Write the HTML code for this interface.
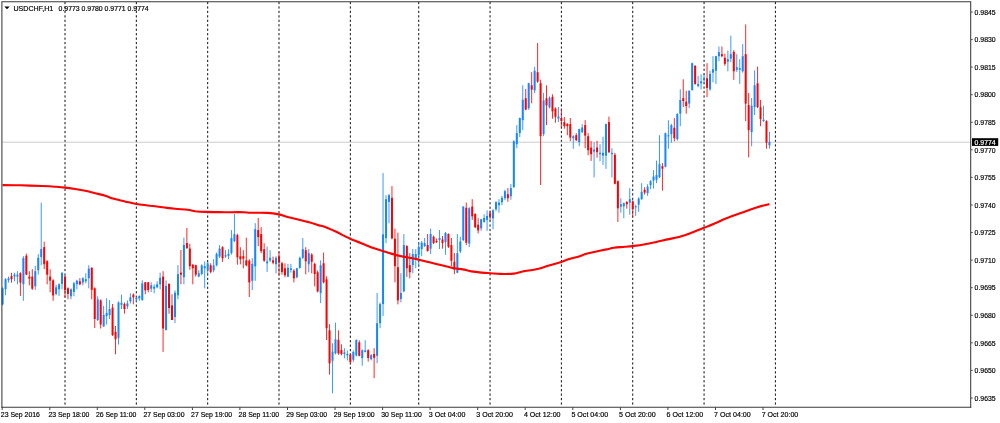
<!DOCTYPE html><html><head><meta charset="utf-8"><title>USDCHF,H1</title><style>html,body{margin:0;padding:0;background:#fff}body{width:1000px;height:423px;overflow:hidden}svg{display:block}text{font-family:"Liberation Sans",sans-serif;font-size:7.3px;fill:#000;stroke:#000;stroke-width:0.18px}</style></head><body>
<svg width="1000" height="423" viewBox="0 0 1000 423">
<rect width="1000" height="423" fill="#fff"/>
<line x1="65.0" y1="1.9" x2="65.0" y2="406.8" stroke="#000" stroke-width="0.95" stroke-dasharray="2.25 2.2"/>
<line x1="136.34" y1="1.9" x2="136.34" y2="406.8" stroke="#000" stroke-width="0.95" stroke-dasharray="2.25 2.2"/>
<line x1="207.68" y1="1.9" x2="207.68" y2="406.8" stroke="#000" stroke-width="0.95" stroke-dasharray="2.25 2.2"/>
<line x1="279.01" y1="1.9" x2="279.01" y2="406.8" stroke="#000" stroke-width="0.95" stroke-dasharray="2.25 2.2"/>
<line x1="350.35" y1="1.9" x2="350.35" y2="406.8" stroke="#000" stroke-width="0.95" stroke-dasharray="2.25 2.2"/>
<line x1="418.72" y1="1.9" x2="418.72" y2="406.8" stroke="#000" stroke-width="0.95" stroke-dasharray="2.25 2.2"/>
<line x1="490.05" y1="1.9" x2="490.05" y2="406.8" stroke="#000" stroke-width="0.95" stroke-dasharray="2.25 2.2"/>
<line x1="561.39" y1="1.9" x2="561.39" y2="406.8" stroke="#000" stroke-width="0.95" stroke-dasharray="2.25 2.2"/>
<line x1="632.73" y1="1.9" x2="632.73" y2="406.8" stroke="#000" stroke-width="0.95" stroke-dasharray="2.25 2.2"/>
<line x1="704.07" y1="1.9" x2="704.07" y2="406.8" stroke="#000" stroke-width="0.95" stroke-dasharray="2.25 2.2"/>
<line x1="775.4" y1="1.9" x2="775.4" y2="406.8" stroke="#000" stroke-width="0.95" stroke-dasharray="2.25 2.2"/>
<line x1="2" y1="142.2" x2="971" y2="142.2" stroke="#c0c0c0" stroke-width="0.8"/>
<line x1="2.58" y1="287.3" x2="2.58" y2="305.4" stroke="#1688ff" stroke-width="0.85"/>
<rect x="1.58" y="288.3" width="2" height="16.1" fill="#1688ff"/>
<line x1="5.55" y1="278.2" x2="5.55" y2="295.3" stroke="#1688ff" stroke-width="0.85"/>
<rect x="4.55" y="279.2" width="2" height="10.1" fill="#1688ff"/>
<line x1="8.52" y1="276.6" x2="8.52" y2="282.7" stroke="#1688ff" stroke-width="0.85"/>
<rect x="7.52" y="278.2" width="2" height="2.0" fill="#1688ff"/>
<line x1="11.50" y1="272.8" x2="11.50" y2="282.7" stroke="#ff0000" stroke-width="0.85"/>
<rect x="10.50" y="276.2" width="2" height="3.0" fill="#ff0000"/>
<line x1="14.47" y1="272.8" x2="14.47" y2="281.3" stroke="#1688ff" stroke-width="0.85"/>
<rect x="13.47" y="274.6" width="2" height="2.0" fill="#1688ff"/>
<line x1="17.44" y1="271.2" x2="17.44" y2="284.3" stroke="#1688ff" stroke-width="0.85"/>
<rect x="16.44" y="274.6" width="2" height="2.0" fill="#1688ff"/>
<line x1="20.41" y1="272.2" x2="20.41" y2="295.9" stroke="#ff0000" stroke-width="0.85"/>
<rect x="19.41" y="273.2" width="2" height="9.4" fill="#ff0000"/>
<line x1="23.39" y1="256.1" x2="23.39" y2="300.8" stroke="#1688ff" stroke-width="0.85"/>
<rect x="22.39" y="258.1" width="2" height="26.1" fill="#1688ff"/>
<line x1="26.36" y1="253.7" x2="26.36" y2="275.2" stroke="#ff0000" stroke-width="0.85"/>
<rect x="25.36" y="255.7" width="2" height="18.9" fill="#ff0000"/>
<line x1="29.33" y1="271.2" x2="29.33" y2="285.3" stroke="#ff0000" stroke-width="0.85"/>
<rect x="28.33" y="276.6" width="2" height="2.0" fill="#ff0000"/>
<line x1="32.30" y1="269.2" x2="32.30" y2="289.9" stroke="#ff0000" stroke-width="0.85"/>
<rect x="31.30" y="276.6" width="2" height="12.1" fill="#ff0000"/>
<line x1="35.28" y1="265.8" x2="35.28" y2="289.9" stroke="#1688ff" stroke-width="0.85"/>
<rect x="34.28" y="271.2" width="2" height="15.1" fill="#1688ff"/>
<line x1="38.25" y1="254.1" x2="38.25" y2="274.6" stroke="#1688ff" stroke-width="0.85"/>
<rect x="37.25" y="257.7" width="2" height="12.5" fill="#1688ff"/>
<line x1="41.22" y1="202.7" x2="41.22" y2="265.2" stroke="#1688ff" stroke-width="0.85"/>
<rect x="40.22" y="249.1" width="2" height="8.0" fill="#1688ff"/>
<line x1="44.19" y1="241.7" x2="44.19" y2="269.2" stroke="#ff0000" stroke-width="0.85"/>
<rect x="43.19" y="247.1" width="2" height="17.1" fill="#ff0000"/>
<line x1="47.17" y1="260.2" x2="47.17" y2="284.3" stroke="#ff0000" stroke-width="0.85"/>
<rect x="46.17" y="261.2" width="2" height="13.5" fill="#ff0000"/>
<line x1="50.14" y1="269.2" x2="50.14" y2="292.3" stroke="#ff0000" stroke-width="0.85"/>
<rect x="49.14" y="276.6" width="2" height="4.0" fill="#ff0000"/>
<line x1="53.11" y1="279.2" x2="53.11" y2="300.8" stroke="#ff0000" stroke-width="0.85"/>
<rect x="52.11" y="280.3" width="2" height="15.1" fill="#ff0000"/>
<line x1="56.08" y1="284.7" x2="56.08" y2="295.3" stroke="#1688ff" stroke-width="0.85"/>
<rect x="55.08" y="287.3" width="2" height="6.6" fill="#1688ff"/>
<line x1="59.06" y1="283.3" x2="59.06" y2="295.9" stroke="#1688ff" stroke-width="0.85"/>
<rect x="58.06" y="284.3" width="2" height="5.0" fill="#1688ff"/>
<line x1="62.03" y1="272.2" x2="62.03" y2="289.3" stroke="#1688ff" stroke-width="0.85"/>
<rect x="61.03" y="272.8" width="2" height="11.1" fill="#1688ff"/>
<line x1="65.00" y1="275.2" x2="65.00" y2="297.3" stroke="#ff0000" stroke-width="0.85"/>
<rect x="64.00" y="276.6" width="2" height="13.7" fill="#ff0000"/>
<line x1="67.97" y1="287.3" x2="67.97" y2="299.3" stroke="#ff0000" stroke-width="0.85"/>
<rect x="66.97" y="288.3" width="2" height="5.6" fill="#ff0000"/>
<line x1="70.95" y1="288.3" x2="70.95" y2="299.3" stroke="#1688ff" stroke-width="0.85"/>
<rect x="69.95" y="289.3" width="2" height="7.0" fill="#1688ff"/>
<line x1="73.92" y1="281.9" x2="73.92" y2="296.3" stroke="#1688ff" stroke-width="0.85"/>
<rect x="72.92" y="283.3" width="2" height="8.6" fill="#1688ff"/>
<line x1="76.89" y1="279.8" x2="76.89" y2="289.3" stroke="#1688ff" stroke-width="0.85"/>
<rect x="75.89" y="280.7" width="2" height="3.6" fill="#1688ff"/>
<line x1="79.86" y1="278.2" x2="79.86" y2="285.3" stroke="#ff0000" stroke-width="0.85"/>
<rect x="78.86" y="281.3" width="2" height="3.0" fill="#ff0000"/>
<line x1="82.83" y1="277.2" x2="82.83" y2="285.3" stroke="#1688ff" stroke-width="0.85"/>
<rect x="81.83" y="278.2" width="2" height="4.4" fill="#1688ff"/>
<line x1="85.81" y1="273.2" x2="85.81" y2="283.3" stroke="#1688ff" stroke-width="0.85"/>
<rect x="84.81" y="279.2" width="2" height="2.0" fill="#1688ff"/>
<line x1="88.78" y1="265.2" x2="88.78" y2="288.3" stroke="#1688ff" stroke-width="0.85"/>
<rect x="87.78" y="268.6" width="2" height="9.6" fill="#1688ff"/>
<line x1="91.75" y1="267.2" x2="91.75" y2="299.3" stroke="#ff0000" stroke-width="0.85"/>
<rect x="90.75" y="267.8" width="2" height="22.1" fill="#ff0000"/>
<line x1="94.72" y1="287.3" x2="94.72" y2="328.0" stroke="#ff0000" stroke-width="0.85"/>
<rect x="93.72" y="288.3" width="2" height="30.7" fill="#ff0000"/>
<line x1="97.70" y1="296.3" x2="97.70" y2="321.0" stroke="#1688ff" stroke-width="0.85"/>
<rect x="96.70" y="299.3" width="2" height="20.7" fill="#1688ff"/>
<line x1="100.67" y1="299.3" x2="100.67" y2="328.5" stroke="#ff0000" stroke-width="0.85"/>
<rect x="99.67" y="300.4" width="2" height="24.1" fill="#ff0000"/>
<line x1="103.64" y1="305.8" x2="103.64" y2="326.5" stroke="#1688ff" stroke-width="0.85"/>
<rect x="102.64" y="315.0" width="2" height="11.5" fill="#1688ff"/>
<line x1="106.61" y1="298.3" x2="106.61" y2="324.5" stroke="#1688ff" stroke-width="0.85"/>
<rect x="105.61" y="313.0" width="2" height="3.0" fill="#1688ff"/>
<line x1="109.59" y1="300.0" x2="109.59" y2="319.0" stroke="#1688ff" stroke-width="0.85"/>
<rect x="108.59" y="309.0" width="2" height="6.0" fill="#1688ff"/>
<line x1="112.56" y1="304.0" x2="112.56" y2="336.0" stroke="#ff0000" stroke-width="0.85"/>
<rect x="111.56" y="307.6" width="2" height="27.4" fill="#ff0000"/>
<line x1="115.53" y1="326.0" x2="115.53" y2="354.3" stroke="#ff0000" stroke-width="0.85"/>
<rect x="114.53" y="331.8" width="2" height="7.4" fill="#ff0000"/>
<line x1="118.50" y1="301.4" x2="118.50" y2="344.6" stroke="#1688ff" stroke-width="0.85"/>
<rect x="117.50" y="302.4" width="2" height="35.4" fill="#1688ff"/>
<line x1="121.48" y1="294.7" x2="121.48" y2="309.0" stroke="#1688ff" stroke-width="0.85"/>
<rect x="120.48" y="302.8" width="2" height="2.0" fill="#1688ff"/>
<line x1="124.45" y1="302.4" x2="124.45" y2="313.7" stroke="#ff0000" stroke-width="0.85"/>
<rect x="123.45" y="304.0" width="2" height="5.0" fill="#ff0000"/>
<line x1="127.42" y1="300.4" x2="127.42" y2="309.0" stroke="#1688ff" stroke-width="0.85"/>
<rect x="126.42" y="303.4" width="2" height="3.0" fill="#1688ff"/>
<line x1="130.39" y1="293.3" x2="130.39" y2="303.5" stroke="#1688ff" stroke-width="0.85"/>
<rect x="129.39" y="297.3" width="2" height="4.1" fill="#1688ff"/>
<line x1="133.37" y1="293.3" x2="133.37" y2="304.4" stroke="#ff0000" stroke-width="0.85"/>
<rect x="132.37" y="294.7" width="2" height="2.6" fill="#ff0000"/>
<line x1="136.34" y1="296.3" x2="136.34" y2="302.4" stroke="#1688ff" stroke-width="0.85"/>
<rect x="135.34" y="298.0" width="2" height="1.3" fill="#1688ff"/>
<line x1="139.31" y1="295.3" x2="139.31" y2="300.8" stroke="#1688ff" stroke-width="0.85"/>
<rect x="138.31" y="296.0" width="2" height="2.3" fill="#1688ff"/>
<line x1="142.28" y1="280.3" x2="142.28" y2="300.8" stroke="#1688ff" stroke-width="0.85"/>
<rect x="141.28" y="283.3" width="2" height="16.7" fill="#1688ff"/>
<line x1="145.26" y1="281.9" x2="145.26" y2="294.3" stroke="#ff0000" stroke-width="0.85"/>
<rect x="144.26" y="282.3" width="2" height="8.0" fill="#ff0000"/>
<line x1="148.23" y1="281.9" x2="148.23" y2="292.3" stroke="#ff0000" stroke-width="0.85"/>
<rect x="147.23" y="282.3" width="2" height="7.7" fill="#ff0000"/>
<line x1="151.20" y1="282.3" x2="151.20" y2="292.0" stroke="#1688ff" stroke-width="0.85"/>
<rect x="150.20" y="285.3" width="2" height="3.4" fill="#1688ff"/>
<line x1="154.17" y1="284.3" x2="154.17" y2="293.3" stroke="#1688ff" stroke-width="0.85"/>
<rect x="153.17" y="286.7" width="2" height="2.0" fill="#1688ff"/>
<line x1="157.14" y1="281.3" x2="157.14" y2="288.3" stroke="#1688ff" stroke-width="0.85"/>
<rect x="156.14" y="284.3" width="2" height="3.0" fill="#1688ff"/>
<line x1="160.12" y1="272.6" x2="160.12" y2="289.3" stroke="#1688ff" stroke-width="0.85"/>
<rect x="159.12" y="277.8" width="2" height="6.5" fill="#1688ff"/>
<line x1="163.09" y1="271.2" x2="163.09" y2="351.9" stroke="#ff0000" stroke-width="0.85"/>
<rect x="162.09" y="276.6" width="2" height="51.9" fill="#ff0000"/>
<line x1="166.06" y1="280.3" x2="166.06" y2="330.2" stroke="#1688ff" stroke-width="0.85"/>
<rect x="165.06" y="285.9" width="2" height="44.3" fill="#1688ff"/>
<line x1="169.03" y1="283.3" x2="169.03" y2="313.7" stroke="#ff0000" stroke-width="0.85"/>
<rect x="168.03" y="283.9" width="2" height="24.1" fill="#ff0000"/>
<line x1="172.01" y1="294.3" x2="172.01" y2="320.0" stroke="#ff0000" stroke-width="0.85"/>
<rect x="171.01" y="305.4" width="2" height="14.6" fill="#ff0000"/>
<line x1="174.98" y1="290.3" x2="174.98" y2="323.0" stroke="#1688ff" stroke-width="0.85"/>
<rect x="173.98" y="292.7" width="2" height="24.3" fill="#1688ff"/>
<line x1="177.95" y1="265.2" x2="177.95" y2="299.3" stroke="#1688ff" stroke-width="0.85"/>
<rect x="176.95" y="274.2" width="2" height="21.1" fill="#1688ff"/>
<line x1="180.92" y1="250.0" x2="180.92" y2="284.3" stroke="#ff0000" stroke-width="0.85"/>
<rect x="179.92" y="272.6" width="2" height="2.0" fill="#ff0000"/>
<line x1="183.90" y1="237.6" x2="183.90" y2="284.3" stroke="#1688ff" stroke-width="0.85"/>
<rect x="182.90" y="245.0" width="2" height="32.2" fill="#1688ff"/>
<line x1="186.87" y1="228.0" x2="186.87" y2="249.0" stroke="#ff0000" stroke-width="0.85"/>
<rect x="185.87" y="243.0" width="2" height="5.0" fill="#ff0000"/>
<line x1="189.84" y1="243.7" x2="189.84" y2="269.8" stroke="#ff0000" stroke-width="0.85"/>
<rect x="188.84" y="248.5" width="2" height="17.7" fill="#ff0000"/>
<line x1="192.81" y1="264.2" x2="192.81" y2="284.3" stroke="#ff0000" stroke-width="0.85"/>
<rect x="191.81" y="264.6" width="2" height="3.6" fill="#ff0000"/>
<line x1="195.79" y1="264.6" x2="195.79" y2="276.6" stroke="#ff0000" stroke-width="0.85"/>
<rect x="194.79" y="265.2" width="2" height="9.4" fill="#ff0000"/>
<line x1="198.76" y1="270.3" x2="198.76" y2="277.3" stroke="#1688ff" stroke-width="0.85"/>
<rect x="197.76" y="273.3" width="2" height="3.2" fill="#1688ff"/>
<line x1="201.73" y1="264.3" x2="201.73" y2="275.3" stroke="#1688ff" stroke-width="0.85"/>
<rect x="200.73" y="265.3" width="2" height="8.6" fill="#1688ff"/>
<line x1="204.70" y1="261.3" x2="204.70" y2="288.4" stroke="#1688ff" stroke-width="0.85"/>
<rect x="203.70" y="266.3" width="2" height="2.0" fill="#1688ff"/>
<line x1="207.68" y1="261.9" x2="207.68" y2="274.3" stroke="#1688ff" stroke-width="0.85"/>
<rect x="206.68" y="263.3" width="2" height="7.0" fill="#1688ff"/>
<line x1="210.65" y1="263.3" x2="210.65" y2="273.3" stroke="#ff0000" stroke-width="0.85"/>
<rect x="209.65" y="265.3" width="2" height="6.6" fill="#ff0000"/>
<line x1="213.62" y1="259.2" x2="213.62" y2="272.3" stroke="#1688ff" stroke-width="0.85"/>
<rect x="212.62" y="265.3" width="2" height="5.0" fill="#1688ff"/>
<line x1="216.59" y1="252.6" x2="216.59" y2="266.3" stroke="#1688ff" stroke-width="0.85"/>
<rect x="215.59" y="253.8" width="2" height="11.5" fill="#1688ff"/>
<line x1="219.57" y1="245.2" x2="219.57" y2="258.2" stroke="#1688ff" stroke-width="0.85"/>
<rect x="218.57" y="248.6" width="2" height="8.0" fill="#1688ff"/>
<line x1="222.54" y1="246.2" x2="222.54" y2="261.9" stroke="#ff0000" stroke-width="0.85"/>
<rect x="221.54" y="247.2" width="2" height="11.1" fill="#ff0000"/>
<line x1="225.51" y1="250.2" x2="225.51" y2="257.8" stroke="#1688ff" stroke-width="0.85"/>
<rect x="224.51" y="255.2" width="2" height="1.4" fill="#1688ff"/>
<line x1="228.48" y1="249.2" x2="228.48" y2="259.2" stroke="#1688ff" stroke-width="0.85"/>
<rect x="227.48" y="253.8" width="2" height="2.0" fill="#1688ff"/>
<line x1="231.45" y1="230.1" x2="231.45" y2="254.6" stroke="#1688ff" stroke-width="0.85"/>
<rect x="230.45" y="238.1" width="2" height="15.1" fill="#1688ff"/>
<line x1="234.43" y1="214.0" x2="234.43" y2="242.2" stroke="#1688ff" stroke-width="0.85"/>
<rect x="233.43" y="234.1" width="2" height="7.0" fill="#1688ff"/>
<line x1="237.40" y1="233.7" x2="237.40" y2="264.7" stroke="#ff0000" stroke-width="0.85"/>
<rect x="236.40" y="235.1" width="2" height="22.1" fill="#ff0000"/>
<line x1="240.37" y1="247.2" x2="240.37" y2="264.3" stroke="#ff0000" stroke-width="0.85"/>
<rect x="239.37" y="256.2" width="2" height="3.0" fill="#ff0000"/>
<line x1="243.34" y1="250.2" x2="243.34" y2="268.3" stroke="#ff0000" stroke-width="0.85"/>
<rect x="242.34" y="256.2" width="2" height="2.4" fill="#ff0000"/>
<line x1="246.32" y1="237.7" x2="246.32" y2="266.3" stroke="#ff0000" stroke-width="0.85"/>
<rect x="245.32" y="260.3" width="2" height="5.0" fill="#ff0000"/>
<line x1="249.29" y1="259.2" x2="249.29" y2="297.0" stroke="#ff0000" stroke-width="0.85"/>
<rect x="248.29" y="260.7" width="2" height="21.7" fill="#ff0000"/>
<line x1="252.26" y1="258.2" x2="252.26" y2="290.0" stroke="#1688ff" stroke-width="0.85"/>
<rect x="251.26" y="263.9" width="2" height="16.9" fill="#1688ff"/>
<line x1="255.23" y1="223.1" x2="255.23" y2="280.8" stroke="#1688ff" stroke-width="0.85"/>
<rect x="254.23" y="229.1" width="2" height="37.2" fill="#1688ff"/>
<line x1="258.21" y1="218.0" x2="258.21" y2="246.2" stroke="#ff0000" stroke-width="0.85"/>
<rect x="257.21" y="230.1" width="2" height="7.0" fill="#ff0000"/>
<line x1="261.18" y1="227.1" x2="261.18" y2="253.2" stroke="#ff0000" stroke-width="0.85"/>
<rect x="260.18" y="234.1" width="2" height="17.1" fill="#ff0000"/>
<line x1="264.15" y1="243.2" x2="264.15" y2="261.9" stroke="#ff0000" stroke-width="0.85"/>
<rect x="263.15" y="249.2" width="2" height="11.5" fill="#ff0000"/>
<line x1="267.12" y1="246.6" x2="267.12" y2="271.9" stroke="#1688ff" stroke-width="0.85"/>
<rect x="266.12" y="261.3" width="2" height="2.0" fill="#1688ff"/>
<line x1="270.10" y1="250.2" x2="270.10" y2="261.9" stroke="#1688ff" stroke-width="0.85"/>
<rect x="269.10" y="257.8" width="2" height="2.8" fill="#1688ff"/>
<line x1="273.07" y1="256.6" x2="273.07" y2="264.3" stroke="#ff0000" stroke-width="0.85"/>
<rect x="272.07" y="260.3" width="2" height="2.4" fill="#ff0000"/>
<line x1="276.04" y1="256.2" x2="276.04" y2="273.3" stroke="#1688ff" stroke-width="0.85"/>
<rect x="275.04" y="257.8" width="2" height="6.4" fill="#1688ff"/>
<line x1="279.01" y1="252.2" x2="279.01" y2="275.3" stroke="#ff0000" stroke-width="0.85"/>
<rect x="278.01" y="256.6" width="2" height="6.0" fill="#ff0000"/>
<line x1="281.99" y1="261.9" x2="281.99" y2="274.7" stroke="#ff0000" stroke-width="0.85"/>
<rect x="280.99" y="263.3" width="2" height="8.6" fill="#ff0000"/>
<line x1="284.96" y1="263.3" x2="284.96" y2="277.3" stroke="#ff0000" stroke-width="0.85"/>
<rect x="283.96" y="268.3" width="2" height="7.0" fill="#ff0000"/>
<line x1="287.93" y1="263.9" x2="287.93" y2="277.3" stroke="#1688ff" stroke-width="0.85"/>
<rect x="286.93" y="267.9" width="2" height="8.8" fill="#1688ff"/>
<line x1="290.90" y1="263.9" x2="290.90" y2="272.7" stroke="#1688ff" stroke-width="0.85"/>
<rect x="289.90" y="268.3" width="2" height="1.6" fill="#1688ff"/>
<line x1="293.88" y1="269.3" x2="293.88" y2="282.4" stroke="#ff0000" stroke-width="0.85"/>
<rect x="292.88" y="270.7" width="2" height="7.6" fill="#ff0000"/>
<line x1="296.85" y1="267.9" x2="296.85" y2="278.3" stroke="#1688ff" stroke-width="0.85"/>
<rect x="295.85" y="268.3" width="2" height="9.0" fill="#1688ff"/>
<line x1="299.82" y1="256.6" x2="299.82" y2="268.7" stroke="#1688ff" stroke-width="0.85"/>
<rect x="298.82" y="257.8" width="2" height="10.1" fill="#1688ff"/>
<line x1="302.79" y1="238.1" x2="302.79" y2="259.2" stroke="#1688ff" stroke-width="0.85"/>
<rect x="301.79" y="249.2" width="2" height="8.6" fill="#1688ff"/>
<line x1="305.76" y1="247.2" x2="305.76" y2="274.3" stroke="#ff0000" stroke-width="0.85"/>
<rect x="304.76" y="250.2" width="2" height="11.1" fill="#ff0000"/>
<line x1="308.74" y1="249.2" x2="308.74" y2="272.3" stroke="#1688ff" stroke-width="0.85"/>
<rect x="307.74" y="253.2" width="2" height="11.1" fill="#1688ff"/>
<line x1="311.71" y1="253.2" x2="311.71" y2="273.3" stroke="#ff0000" stroke-width="0.85"/>
<rect x="310.71" y="254.6" width="2" height="7.2" fill="#ff0000"/>
<line x1="314.68" y1="262.7" x2="314.68" y2="286.4" stroke="#ff0000" stroke-width="0.85"/>
<rect x="313.68" y="263.9" width="2" height="10.1" fill="#ff0000"/>
<line x1="317.65" y1="270.3" x2="317.65" y2="292.4" stroke="#ff0000" stroke-width="0.85"/>
<rect x="316.65" y="272.3" width="2" height="19.1" fill="#ff0000"/>
<line x1="320.63" y1="260.3" x2="320.63" y2="303.1" stroke="#1688ff" stroke-width="0.85"/>
<rect x="319.63" y="265.3" width="2" height="27.7" fill="#1688ff"/>
<line x1="323.60" y1="252.6" x2="323.60" y2="283.4" stroke="#ff0000" stroke-width="0.85"/>
<rect x="322.60" y="263.3" width="2" height="19.1" fill="#ff0000"/>
<line x1="326.57" y1="276.3" x2="326.57" y2="340.0" stroke="#ff0000" stroke-width="0.85"/>
<rect x="325.57" y="279.3" width="2" height="48.9" fill="#ff0000"/>
<line x1="329.54" y1="324.2" x2="329.54" y2="374.6" stroke="#ff0000" stroke-width="0.85"/>
<rect x="328.54" y="330.3" width="2" height="33.0" fill="#ff0000"/>
<line x1="332.52" y1="343.3" x2="332.52" y2="393.3" stroke="#1688ff" stroke-width="0.85"/>
<rect x="331.52" y="351.6" width="2" height="9.2" fill="#1688ff"/>
<line x1="335.49" y1="322.6" x2="335.49" y2="354.4" stroke="#1688ff" stroke-width="0.85"/>
<rect x="334.49" y="339.3" width="2" height="14.1" fill="#1688ff"/>
<line x1="338.46" y1="330.3" x2="338.46" y2="354.8" stroke="#ff0000" stroke-width="0.85"/>
<rect x="337.46" y="339.9" width="2" height="13.5" fill="#ff0000"/>
<line x1="341.43" y1="344.3" x2="341.43" y2="355.4" stroke="#ff0000" stroke-width="0.85"/>
<rect x="340.43" y="350.0" width="2" height="4.0" fill="#ff0000"/>
<line x1="344.41" y1="348.3" x2="344.41" y2="358.4" stroke="#1688ff" stroke-width="0.85"/>
<rect x="343.41" y="352.4" width="2" height="1.6" fill="#1688ff"/>
<line x1="347.38" y1="350.4" x2="347.38" y2="360.4" stroke="#1688ff" stroke-width="0.85"/>
<rect x="346.38" y="354.0" width="2" height="1.4" fill="#1688ff"/>
<line x1="350.35" y1="353.4" x2="350.35" y2="363.8" stroke="#ff0000" stroke-width="0.85"/>
<rect x="349.35" y="354.6" width="2" height="7.3" fill="#ff0000"/>
<line x1="353.32" y1="350.4" x2="353.32" y2="361.9" stroke="#1688ff" stroke-width="0.85"/>
<rect x="352.32" y="352.0" width="2" height="7.8" fill="#1688ff"/>
<line x1="356.30" y1="339.3" x2="356.30" y2="356.4" stroke="#1688ff" stroke-width="0.85"/>
<rect x="355.30" y="340.0" width="2" height="15.5" fill="#1688ff"/>
<line x1="359.27" y1="340.3" x2="359.27" y2="356.4" stroke="#ff0000" stroke-width="0.85"/>
<rect x="358.27" y="342.4" width="2" height="13.4" fill="#ff0000"/>
<line x1="362.24" y1="349.3" x2="362.24" y2="365.8" stroke="#1688ff" stroke-width="0.85"/>
<rect x="361.24" y="350.2" width="2" height="8.0" fill="#1688ff"/>
<line x1="365.21" y1="340.2" x2="365.21" y2="352.4" stroke="#1688ff" stroke-width="0.85"/>
<rect x="364.21" y="350.4" width="2" height="1.6" fill="#1688ff"/>
<line x1="368.19" y1="349.3" x2="368.19" y2="361.6" stroke="#ff0000" stroke-width="0.85"/>
<rect x="367.19" y="350.2" width="2" height="7.8" fill="#ff0000"/>
<line x1="371.16" y1="354.0" x2="371.16" y2="360.4" stroke="#1688ff" stroke-width="0.85"/>
<rect x="370.16" y="355.2" width="2" height="4.0" fill="#1688ff"/>
<line x1="374.13" y1="348.2" x2="374.13" y2="378.2" stroke="#ff0000" stroke-width="0.85"/>
<rect x="373.13" y="354.0" width="2" height="3.8" fill="#ff0000"/>
<line x1="377.10" y1="293.0" x2="377.10" y2="363.3" stroke="#1688ff" stroke-width="0.85"/>
<rect x="376.10" y="323.2" width="2" height="32.6" fill="#1688ff"/>
<line x1="380.07" y1="302.5" x2="380.07" y2="328.2" stroke="#1688ff" stroke-width="0.85"/>
<rect x="379.07" y="304.1" width="2" height="19.1" fill="#1688ff"/>
<line x1="383.05" y1="173.1" x2="383.05" y2="316.2" stroke="#1688ff" stroke-width="0.85"/>
<rect x="382.05" y="234.3" width="2" height="69.8" fill="#1688ff"/>
<line x1="386.02" y1="195.2" x2="386.02" y2="243.2" stroke="#1688ff" stroke-width="0.85"/>
<rect x="385.02" y="199.2" width="2" height="38.9" fill="#1688ff"/>
<line x1="388.99" y1="193.8" x2="388.99" y2="223.3" stroke="#1688ff" stroke-width="0.85"/>
<rect x="387.99" y="195.2" width="2" height="6.6" fill="#1688ff"/>
<line x1="391.96" y1="186.1" x2="391.96" y2="239.4" stroke="#ff0000" stroke-width="0.85"/>
<rect x="390.96" y="197.8" width="2" height="40.6" fill="#ff0000"/>
<line x1="394.94" y1="228.7" x2="394.94" y2="282.3" stroke="#ff0000" stroke-width="0.85"/>
<rect x="393.94" y="238.7" width="2" height="27.5" fill="#ff0000"/>
<line x1="397.91" y1="232.6" x2="397.91" y2="304.4" stroke="#ff0000" stroke-width="0.85"/>
<rect x="396.91" y="267.2" width="2" height="33.2" fill="#ff0000"/>
<line x1="400.88" y1="273.2" x2="400.88" y2="302.4" stroke="#1688ff" stroke-width="0.85"/>
<rect x="399.88" y="293.0" width="2" height="6.0" fill="#1688ff"/>
<line x1="403.85" y1="234.0" x2="403.85" y2="292.3" stroke="#1688ff" stroke-width="0.85"/>
<rect x="402.85" y="245.1" width="2" height="46.2" fill="#1688ff"/>
<line x1="406.83" y1="245.1" x2="406.83" y2="276.9" stroke="#ff0000" stroke-width="0.85"/>
<rect x="405.83" y="246.1" width="2" height="22.1" fill="#ff0000"/>
<line x1="409.80" y1="253.1" x2="409.80" y2="278.3" stroke="#ff0000" stroke-width="0.85"/>
<rect x="408.80" y="265.2" width="2" height="7.0" fill="#ff0000"/>
<line x1="412.77" y1="249.1" x2="412.77" y2="273.2" stroke="#1688ff" stroke-width="0.85"/>
<rect x="411.77" y="254.1" width="2" height="11.1" fill="#1688ff"/>
<line x1="415.74" y1="249.1" x2="415.74" y2="268.2" stroke="#1688ff" stroke-width="0.85"/>
<rect x="414.74" y="254.1" width="2" height="4.1" fill="#1688ff"/>
<line x1="418.72" y1="242.0" x2="418.72" y2="266.2" stroke="#1688ff" stroke-width="0.85"/>
<rect x="417.72" y="247.1" width="2" height="8.1" fill="#1688ff"/>
<line x1="421.69" y1="241.0" x2="421.69" y2="256.2" stroke="#1688ff" stroke-width="0.85"/>
<rect x="420.69" y="242.7" width="2" height="6.4" fill="#1688ff"/>
<line x1="424.66" y1="238.0" x2="424.66" y2="247.1" stroke="#1688ff" stroke-width="0.85"/>
<rect x="423.66" y="243.1" width="2" height="3.0" fill="#1688ff"/>
<line x1="427.63" y1="234.0" x2="427.63" y2="251.5" stroke="#ff0000" stroke-width="0.85"/>
<rect x="426.63" y="245.1" width="2" height="6.0" fill="#ff0000"/>
<line x1="430.61" y1="228.6" x2="430.61" y2="254.1" stroke="#1688ff" stroke-width="0.85"/>
<rect x="429.61" y="234.0" width="2" height="14.7" fill="#1688ff"/>
<line x1="433.58" y1="235.5" x2="433.58" y2="244.1" stroke="#ff0000" stroke-width="0.85"/>
<rect x="432.58" y="236.7" width="2" height="6.4" fill="#ff0000"/>
<line x1="436.55" y1="238.5" x2="436.55" y2="243.0" stroke="#ff0000" stroke-width="0.85"/>
<rect x="435.55" y="241.0" width="2" height="1.0" fill="#ff0000"/>
<line x1="439.52" y1="230.0" x2="439.52" y2="249.0" stroke="#1688ff" stroke-width="0.85"/>
<rect x="438.52" y="238.0" width="2" height="2.0" fill="#1688ff"/>
<line x1="442.50" y1="236.0" x2="442.50" y2="248.7" stroke="#ff0000" stroke-width="0.85"/>
<rect x="441.50" y="239.5" width="2" height="3.6" fill="#ff0000"/>
<line x1="445.47" y1="232.0" x2="445.47" y2="254.7" stroke="#1688ff" stroke-width="0.85"/>
<rect x="444.47" y="233.0" width="2" height="9.0" fill="#1688ff"/>
<line x1="448.44" y1="233.4" x2="448.44" y2="248.0" stroke="#ff0000" stroke-width="0.85"/>
<rect x="447.44" y="234.0" width="2" height="12.7" fill="#ff0000"/>
<line x1="451.41" y1="238.0" x2="451.41" y2="266.2" stroke="#ff0000" stroke-width="0.85"/>
<rect x="450.41" y="245.1" width="2" height="15.7" fill="#ff0000"/>
<line x1="454.38" y1="253.1" x2="454.38" y2="274.2" stroke="#ff0000" stroke-width="0.85"/>
<rect x="453.38" y="261.6" width="2" height="8.0" fill="#ff0000"/>
<line x1="457.36" y1="234.0" x2="457.36" y2="273.2" stroke="#1688ff" stroke-width="0.85"/>
<rect x="456.36" y="253.1" width="2" height="19.7" fill="#1688ff"/>
<line x1="460.33" y1="236.7" x2="460.33" y2="253.1" stroke="#1688ff" stroke-width="0.85"/>
<rect x="459.33" y="241.5" width="2" height="10.0" fill="#1688ff"/>
<line x1="463.30" y1="206.2" x2="463.30" y2="241.1" stroke="#1688ff" stroke-width="0.85"/>
<rect x="462.30" y="206.6" width="2" height="33.5" fill="#1688ff"/>
<line x1="466.27" y1="202.6" x2="466.27" y2="245.1" stroke="#ff0000" stroke-width="0.85"/>
<rect x="465.27" y="207.8" width="2" height="34.9" fill="#ff0000"/>
<line x1="469.25" y1="207.2" x2="469.25" y2="247.1" stroke="#1688ff" stroke-width="0.85"/>
<rect x="468.25" y="208.2" width="2" height="35.3" fill="#1688ff"/>
<line x1="472.22" y1="199.2" x2="472.22" y2="219.9" stroke="#ff0000" stroke-width="0.85"/>
<rect x="471.22" y="206.6" width="2" height="9.7" fill="#ff0000"/>
<line x1="475.19" y1="213.3" x2="475.19" y2="228.0" stroke="#ff0000" stroke-width="0.85"/>
<rect x="474.19" y="213.9" width="2" height="13.4" fill="#ff0000"/>
<line x1="478.16" y1="218.3" x2="478.16" y2="233.4" stroke="#ff0000" stroke-width="0.85"/>
<rect x="477.16" y="224.7" width="2" height="5.7" fill="#ff0000"/>
<line x1="481.14" y1="218.7" x2="481.14" y2="230.8" stroke="#1688ff" stroke-width="0.85"/>
<rect x="480.14" y="219.3" width="2" height="9.0" fill="#1688ff"/>
<line x1="484.11" y1="214.3" x2="484.11" y2="222.7" stroke="#1688ff" stroke-width="0.85"/>
<rect x="483.11" y="217.9" width="2" height="4.0" fill="#1688ff"/>
<line x1="487.08" y1="210.3" x2="487.08" y2="230.8" stroke="#1688ff" stroke-width="0.85"/>
<rect x="486.08" y="215.9" width="2" height="4.0" fill="#1688ff"/>
<line x1="490.05" y1="210.3" x2="490.05" y2="220.3" stroke="#ff0000" stroke-width="0.85"/>
<rect x="489.05" y="213.3" width="2" height="3.4" fill="#ff0000"/>
<line x1="493.03" y1="209.2" x2="493.03" y2="229.3" stroke="#1688ff" stroke-width="0.85"/>
<rect x="492.03" y="210.3" width="2" height="8.0" fill="#1688ff"/>
<line x1="496.00" y1="201.2" x2="496.00" y2="211.3" stroke="#1688ff" stroke-width="0.85"/>
<rect x="495.00" y="202.2" width="2" height="7.0" fill="#1688ff"/>
<line x1="498.97" y1="199.2" x2="498.97" y2="212.7" stroke="#1688ff" stroke-width="0.85"/>
<rect x="497.97" y="202.6" width="2" height="2.6" fill="#1688ff"/>
<line x1="501.94" y1="195.8" x2="501.94" y2="205.2" stroke="#1688ff" stroke-width="0.85"/>
<rect x="500.94" y="197.8" width="2" height="4.4" fill="#1688ff"/>
<line x1="504.92" y1="189.7" x2="504.92" y2="200.2" stroke="#1688ff" stroke-width="0.85"/>
<rect x="503.92" y="191.2" width="2" height="7.0" fill="#1688ff"/>
<line x1="507.89" y1="188.1" x2="507.89" y2="201.8" stroke="#ff0000" stroke-width="0.85"/>
<rect x="506.89" y="194.2" width="2" height="4.0" fill="#ff0000"/>
<line x1="510.86" y1="184.1" x2="510.86" y2="199.8" stroke="#1688ff" stroke-width="0.85"/>
<rect x="509.86" y="188.1" width="2" height="8.1" fill="#1688ff"/>
<line x1="513.83" y1="140.2" x2="513.83" y2="188.1" stroke="#1688ff" stroke-width="0.85"/>
<rect x="512.83" y="141.2" width="2" height="45.8" fill="#1688ff"/>
<line x1="516.81" y1="125.1" x2="516.81" y2="148.2" stroke="#1688ff" stroke-width="0.85"/>
<rect x="515.81" y="133.1" width="2" height="11.1" fill="#1688ff"/>
<line x1="519.78" y1="117.5" x2="519.78" y2="137.2" stroke="#1688ff" stroke-width="0.85"/>
<rect x="518.78" y="118.1" width="2" height="15.0" fill="#1688ff"/>
<line x1="522.75" y1="85.3" x2="522.75" y2="130.1" stroke="#1688ff" stroke-width="0.85"/>
<rect x="521.75" y="99.7" width="2" height="20.4" fill="#1688ff"/>
<line x1="525.72" y1="88.9" x2="525.72" y2="110.4" stroke="#ff0000" stroke-width="0.85"/>
<rect x="524.72" y="98.3" width="2" height="11.3" fill="#ff0000"/>
<line x1="528.69" y1="82.8" x2="528.69" y2="109.8" stroke="#1688ff" stroke-width="0.85"/>
<rect x="527.69" y="83.2" width="2" height="25.0" fill="#1688ff"/>
<line x1="531.67" y1="72.2" x2="531.67" y2="103.3" stroke="#ff0000" stroke-width="0.85"/>
<rect x="530.67" y="85.3" width="2" height="4.4" fill="#ff0000"/>
<line x1="534.64" y1="66.8" x2="534.64" y2="93.3" stroke="#1688ff" stroke-width="0.85"/>
<rect x="533.64" y="70.8" width="2" height="19.5" fill="#1688ff"/>
<line x1="537.61" y1="43.0" x2="537.61" y2="82.8" stroke="#ff0000" stroke-width="0.85"/>
<rect x="536.61" y="72.2" width="2" height="9.4" fill="#ff0000"/>
<line x1="540.58" y1="79.6" x2="540.58" y2="185.0" stroke="#ff0000" stroke-width="0.85"/>
<rect x="539.58" y="83.2" width="2" height="53.0" fill="#ff0000"/>
<line x1="543.56" y1="92.9" x2="543.56" y2="136.2" stroke="#1688ff" stroke-width="0.85"/>
<rect x="542.56" y="100.3" width="2" height="33.8" fill="#1688ff"/>
<line x1="546.53" y1="85.3" x2="546.53" y2="125.1" stroke="#ff0000" stroke-width="0.85"/>
<rect x="545.53" y="98.3" width="2" height="7.1" fill="#ff0000"/>
<line x1="549.50" y1="96.3" x2="549.50" y2="108.4" stroke="#1688ff" stroke-width="0.85"/>
<rect x="548.50" y="97.7" width="2" height="9.7" fill="#1688ff"/>
<line x1="552.47" y1="94.3" x2="552.47" y2="118.7" stroke="#ff0000" stroke-width="0.85"/>
<rect x="551.47" y="96.9" width="2" height="14.5" fill="#ff0000"/>
<line x1="555.45" y1="107.4" x2="555.45" y2="122.7" stroke="#ff0000" stroke-width="0.85"/>
<rect x="554.45" y="108.5" width="2" height="8.3" fill="#ff0000"/>
<line x1="558.42" y1="107.0" x2="558.42" y2="122.0" stroke="#1688ff" stroke-width="0.85"/>
<rect x="557.42" y="116.5" width="2" height="2.1" fill="#1688ff"/>
<line x1="561.39" y1="108.5" x2="561.39" y2="127.5" stroke="#ff0000" stroke-width="0.85"/>
<rect x="560.39" y="118.0" width="2" height="3.0" fill="#ff0000"/>
<line x1="564.36" y1="117.0" x2="564.36" y2="128.7" stroke="#ff0000" stroke-width="0.85"/>
<rect x="563.36" y="122.1" width="2" height="4.0" fill="#ff0000"/>
<line x1="567.34" y1="123.1" x2="567.34" y2="135.2" stroke="#ff0000" stroke-width="0.85"/>
<rect x="566.34" y="124.1" width="2" height="2.0" fill="#ff0000"/>
<line x1="570.31" y1="118.0" x2="570.31" y2="141.2" stroke="#ff0000" stroke-width="0.85"/>
<rect x="569.31" y="124.1" width="2" height="13.5" fill="#ff0000"/>
<line x1="573.28" y1="135.2" x2="573.28" y2="148.8" stroke="#1688ff" stroke-width="0.85"/>
<rect x="572.28" y="136.2" width="2" height="2.0" fill="#1688ff"/>
<line x1="576.25" y1="133.1" x2="576.25" y2="141.2" stroke="#ff0000" stroke-width="0.85"/>
<rect x="575.25" y="135.2" width="2" height="5.0" fill="#ff0000"/>
<line x1="579.23" y1="128.7" x2="579.23" y2="146.2" stroke="#1688ff" stroke-width="0.85"/>
<rect x="578.23" y="129.1" width="2" height="13.1" fill="#1688ff"/>
<line x1="582.20" y1="124.1" x2="582.20" y2="133.1" stroke="#1688ff" stroke-width="0.85"/>
<rect x="581.20" y="127.5" width="2" height="4.6" fill="#1688ff"/>
<line x1="585.17" y1="120.1" x2="585.17" y2="148.2" stroke="#ff0000" stroke-width="0.85"/>
<rect x="584.17" y="125.1" width="2" height="10.5" fill="#ff0000"/>
<line x1="588.14" y1="133.1" x2="588.14" y2="155.3" stroke="#ff0000" stroke-width="0.85"/>
<rect x="587.14" y="136.2" width="2" height="14.0" fill="#ff0000"/>
<line x1="591.12" y1="141.2" x2="591.12" y2="160.9" stroke="#ff0000" stroke-width="0.85"/>
<rect x="590.12" y="147.6" width="2" height="6.6" fill="#ff0000"/>
<line x1="594.09" y1="142.2" x2="594.09" y2="177.4" stroke="#1688ff" stroke-width="0.85"/>
<rect x="593.09" y="149.6" width="2" height="2.0" fill="#1688ff"/>
<line x1="597.06" y1="140.8" x2="597.06" y2="157.7" stroke="#ff0000" stroke-width="0.85"/>
<rect x="596.06" y="147.6" width="2" height="4.6" fill="#ff0000"/>
<line x1="600.03" y1="144.2" x2="600.03" y2="161.3" stroke="#1688ff" stroke-width="0.85"/>
<rect x="599.03" y="152.8" width="2" height="1.4" fill="#1688ff"/>
<line x1="603.00" y1="136.8" x2="603.00" y2="164.9" stroke="#1688ff" stroke-width="0.85"/>
<rect x="602.00" y="152.8" width="2" height="2.9" fill="#1688ff"/>
<line x1="605.98" y1="123.5" x2="605.98" y2="168.9" stroke="#1688ff" stroke-width="0.85"/>
<rect x="604.98" y="124.1" width="2" height="31.6" fill="#1688ff"/>
<line x1="608.95" y1="116.6" x2="608.95" y2="153.2" stroke="#ff0000" stroke-width="0.85"/>
<rect x="607.95" y="122.1" width="2" height="30.1" fill="#ff0000"/>
<line x1="611.92" y1="148.2" x2="611.92" y2="177.4" stroke="#1688ff" stroke-width="0.85"/>
<rect x="610.92" y="152.8" width="2" height="1.4" fill="#1688ff"/>
<line x1="614.89" y1="152.8" x2="614.89" y2="184.4" stroke="#ff0000" stroke-width="0.85"/>
<rect x="613.89" y="154.8" width="2" height="29.0" fill="#ff0000"/>
<line x1="617.87" y1="180.4" x2="617.87" y2="222.0" stroke="#ff0000" stroke-width="0.85"/>
<rect x="616.87" y="181.2" width="2" height="27.1" fill="#ff0000"/>
<line x1="620.84" y1="198.2" x2="620.84" y2="212.7" stroke="#1688ff" stroke-width="0.85"/>
<rect x="619.84" y="204.3" width="2" height="2.4" fill="#1688ff"/>
<line x1="623.81" y1="202.5" x2="623.81" y2="218.3" stroke="#1688ff" stroke-width="0.85"/>
<rect x="622.81" y="203.3" width="2" height="3.0" fill="#1688ff"/>
<line x1="626.78" y1="201.2" x2="626.78" y2="208.7" stroke="#ff0000" stroke-width="0.85"/>
<rect x="625.78" y="201.9" width="2" height="2.4" fill="#ff0000"/>
<line x1="629.76" y1="188.2" x2="629.76" y2="214.7" stroke="#1688ff" stroke-width="0.85"/>
<rect x="628.76" y="199.2" width="2" height="3.5" fill="#1688ff"/>
<line x1="632.73" y1="200.2" x2="632.73" y2="217.3" stroke="#ff0000" stroke-width="0.85"/>
<rect x="631.73" y="201.3" width="2" height="8.0" fill="#ff0000"/>
<line x1="635.70" y1="204.7" x2="635.70" y2="215.9" stroke="#1688ff" stroke-width="0.85"/>
<rect x="634.70" y="206.3" width="2" height="1.0" fill="#1688ff"/>
<line x1="638.67" y1="197.2" x2="638.67" y2="211.9" stroke="#1688ff" stroke-width="0.85"/>
<rect x="637.67" y="198.6" width="2" height="6.1" fill="#1688ff"/>
<line x1="641.65" y1="183.2" x2="641.65" y2="199.8" stroke="#1688ff" stroke-width="0.85"/>
<rect x="640.65" y="191.8" width="2" height="7.4" fill="#1688ff"/>
<line x1="644.62" y1="187.2" x2="644.62" y2="194.6" stroke="#ff0000" stroke-width="0.85"/>
<rect x="643.62" y="189.8" width="2" height="2.8" fill="#ff0000"/>
<line x1="647.59" y1="184.2" x2="647.59" y2="195.8" stroke="#1688ff" stroke-width="0.85"/>
<rect x="646.59" y="186.6" width="2" height="6.6" fill="#1688ff"/>
<line x1="650.56" y1="180.2" x2="650.56" y2="189.2" stroke="#1688ff" stroke-width="0.85"/>
<rect x="649.56" y="181.2" width="2" height="4.0" fill="#1688ff"/>
<line x1="653.54" y1="170.1" x2="653.54" y2="188.6" stroke="#1688ff" stroke-width="0.85"/>
<rect x="652.54" y="176.5" width="2" height="4.1" fill="#1688ff"/>
<line x1="656.51" y1="160.6" x2="656.51" y2="183.2" stroke="#1688ff" stroke-width="0.85"/>
<rect x="655.51" y="175.1" width="2" height="4.6" fill="#1688ff"/>
<line x1="659.48" y1="135.2" x2="659.48" y2="178.1" stroke="#1688ff" stroke-width="0.85"/>
<rect x="658.48" y="164.2" width="2" height="12.9" fill="#1688ff"/>
<line x1="662.45" y1="163.0" x2="662.45" y2="190.6" stroke="#ff0000" stroke-width="0.85"/>
<rect x="661.45" y="166.2" width="2" height="2.5" fill="#ff0000"/>
<line x1="665.43" y1="132.6" x2="665.43" y2="167.4" stroke="#1688ff" stroke-width="0.85"/>
<rect x="664.43" y="133.2" width="2" height="33.6" fill="#1688ff"/>
<line x1="668.40" y1="120.2" x2="668.40" y2="148.7" stroke="#1688ff" stroke-width="0.85"/>
<rect x="667.40" y="135.2" width="2" height="1.2" fill="#1688ff"/>
<line x1="671.37" y1="123.8" x2="671.37" y2="142.7" stroke="#1688ff" stroke-width="0.85"/>
<rect x="670.37" y="125.2" width="2" height="9.0" fill="#1688ff"/>
<line x1="674.34" y1="118.1" x2="674.34" y2="141.3" stroke="#ff0000" stroke-width="0.85"/>
<rect x="673.34" y="127.8" width="2" height="10.4" fill="#ff0000"/>
<line x1="677.31" y1="113.1" x2="677.31" y2="140.7" stroke="#1688ff" stroke-width="0.85"/>
<rect x="676.31" y="114.1" width="2" height="25.1" fill="#1688ff"/>
<line x1="680.29" y1="89.3" x2="680.29" y2="126.2" stroke="#1688ff" stroke-width="0.85"/>
<rect x="679.29" y="100.0" width="2" height="13.7" fill="#1688ff"/>
<line x1="683.26" y1="79.3" x2="683.26" y2="107.1" stroke="#ff0000" stroke-width="0.85"/>
<rect x="682.26" y="98.2" width="2" height="2.8" fill="#ff0000"/>
<line x1="686.23" y1="90.8" x2="686.23" y2="113.7" stroke="#ff0000" stroke-width="0.85"/>
<rect x="685.23" y="101.7" width="2" height="4.4" fill="#ff0000"/>
<line x1="689.20" y1="90.3" x2="689.20" y2="108.1" stroke="#1688ff" stroke-width="0.85"/>
<rect x="688.20" y="90.8" width="2" height="12.8" fill="#1688ff"/>
<line x1="692.18" y1="62.6" x2="692.18" y2="90.8" stroke="#1688ff" stroke-width="0.85"/>
<rect x="691.18" y="63.2" width="2" height="26.8" fill="#1688ff"/>
<line x1="695.15" y1="65.2" x2="695.15" y2="84.7" stroke="#ff0000" stroke-width="0.85"/>
<rect x="694.15" y="65.8" width="2" height="18.1" fill="#ff0000"/>
<line x1="698.12" y1="75.9" x2="698.12" y2="87.3" stroke="#1688ff" stroke-width="0.85"/>
<rect x="697.12" y="84.0" width="2" height="2.0" fill="#1688ff"/>
<line x1="701.09" y1="74.3" x2="701.09" y2="89.3" stroke="#1688ff" stroke-width="0.85"/>
<rect x="700.09" y="81.3" width="2" height="2.0" fill="#1688ff"/>
<line x1="704.07" y1="73.3" x2="704.07" y2="84.3" stroke="#1688ff" stroke-width="0.85"/>
<rect x="703.07" y="78.3" width="2" height="2.0" fill="#1688ff"/>
<line x1="707.04" y1="63.2" x2="707.04" y2="97.2" stroke="#ff0000" stroke-width="0.85"/>
<rect x="706.04" y="78.3" width="2" height="9.6" fill="#ff0000"/>
<line x1="710.01" y1="70.7" x2="710.01" y2="90.8" stroke="#1688ff" stroke-width="0.85"/>
<rect x="709.01" y="73.9" width="2" height="15.4" fill="#1688ff"/>
<line x1="712.98" y1="56.2" x2="712.98" y2="82.3" stroke="#1688ff" stroke-width="0.85"/>
<rect x="711.98" y="69.2" width="2" height="3.5" fill="#1688ff"/>
<line x1="715.96" y1="55.8" x2="715.96" y2="83.9" stroke="#1688ff" stroke-width="0.85"/>
<rect x="714.96" y="56.2" width="2" height="14.5" fill="#1688ff"/>
<line x1="718.93" y1="46.5" x2="718.93" y2="61.2" stroke="#1688ff" stroke-width="0.85"/>
<rect x="717.93" y="52.2" width="2" height="4.0" fill="#1688ff"/>
<line x1="721.90" y1="46.5" x2="721.90" y2="57.2" stroke="#ff0000" stroke-width="0.85"/>
<rect x="720.90" y="54.2" width="2" height="2.0" fill="#ff0000"/>
<line x1="724.87" y1="53.8" x2="724.87" y2="65.8" stroke="#ff0000" stroke-width="0.85"/>
<rect x="723.87" y="57.8" width="2" height="6.0" fill="#ff0000"/>
<line x1="727.85" y1="50.6" x2="727.85" y2="71.3" stroke="#1688ff" stroke-width="0.85"/>
<rect x="726.85" y="59.2" width="2" height="2.6" fill="#1688ff"/>
<line x1="730.82" y1="35.7" x2="730.82" y2="62.2" stroke="#1688ff" stroke-width="0.85"/>
<rect x="729.82" y="54.2" width="2" height="4.4" fill="#1688ff"/>
<line x1="733.79" y1="50.2" x2="733.79" y2="79.9" stroke="#ff0000" stroke-width="0.85"/>
<rect x="732.79" y="51.8" width="2" height="19.5" fill="#ff0000"/>
<line x1="736.76" y1="54.2" x2="736.76" y2="71.9" stroke="#1688ff" stroke-width="0.85"/>
<rect x="735.76" y="67.2" width="2" height="2.6" fill="#1688ff"/>
<line x1="739.74" y1="59.2" x2="739.74" y2="83.9" stroke="#1688ff" stroke-width="0.85"/>
<rect x="738.74" y="68.2" width="2" height="1.6" fill="#1688ff"/>
<line x1="742.71" y1="44.1" x2="742.71" y2="72.7" stroke="#1688ff" stroke-width="0.85"/>
<rect x="741.71" y="56.2" width="2" height="15.1" fill="#1688ff"/>
<line x1="745.68" y1="24.4" x2="745.68" y2="121.2" stroke="#ff0000" stroke-width="0.85"/>
<rect x="744.68" y="54.2" width="2" height="49.4" fill="#ff0000"/>
<line x1="748.65" y1="93.0" x2="748.65" y2="157.3" stroke="#ff0000" stroke-width="0.85"/>
<rect x="747.65" y="105.1" width="2" height="25.1" fill="#ff0000"/>
<line x1="751.62" y1="98.0" x2="751.62" y2="146.3" stroke="#1688ff" stroke-width="0.85"/>
<rect x="750.62" y="105.7" width="2" height="26.5" fill="#1688ff"/>
<line x1="754.60" y1="70.3" x2="754.60" y2="115.1" stroke="#1688ff" stroke-width="0.85"/>
<rect x="753.60" y="85.3" width="2" height="21.8" fill="#1688ff"/>
<line x1="757.57" y1="66.6" x2="757.57" y2="108.1" stroke="#ff0000" stroke-width="0.85"/>
<rect x="756.57" y="83.3" width="2" height="23.8" fill="#ff0000"/>
<line x1="760.54" y1="100.0" x2="760.54" y2="126.2" stroke="#ff0000" stroke-width="0.85"/>
<rect x="759.54" y="107.1" width="2" height="12.0" fill="#ff0000"/>
<line x1="763.51" y1="105.7" x2="763.51" y2="121.8" stroke="#1688ff" stroke-width="0.85"/>
<rect x="762.51" y="119.7" width="2" height="1.5" fill="#1688ff"/>
<line x1="766.49" y1="120.2" x2="766.49" y2="148.7" stroke="#ff0000" stroke-width="0.85"/>
<rect x="765.49" y="121.2" width="2" height="21.5" fill="#ff0000"/>
<line x1="769.46" y1="131.8" x2="769.46" y2="148.7" stroke="#1688ff" stroke-width="0.85"/>
<rect x="768.46" y="141.9" width="2" height="3.4" fill="#1688ff"/>
<path d="M2.5 185.1C5.6 185.1 14.4 185.2 21.0 185.3C27.6 185.5 36.3 185.8 42.0 186.0C47.7 186.2 51.2 186.4 55.0 186.7C58.8 187.0 61.6 187.2 65.0 187.6C68.4 188.0 71.8 188.5 75.2 189.0C78.6 189.5 81.9 190.0 85.2 190.7C88.5 191.4 91.9 192.4 95.2 193.2C98.5 194.0 102.3 194.8 105.2 195.7C108.1 196.6 109.4 197.6 112.7 198.6C116.0 199.6 121.1 200.5 125.0 201.4C128.9 202.3 132.1 203.3 136.3 204.0C140.5 204.7 145.6 205.1 150.0 205.7C154.4 206.2 158.4 206.8 162.6 207.3C166.8 207.8 170.9 208.4 175.1 208.8C179.3 209.2 184.3 209.4 187.6 209.8C190.9 210.2 192.0 210.8 195.1 211.2C198.2 211.5 201.4 211.7 206.4 211.9C211.4 212.1 218.9 212.1 225.2 212.2C231.5 212.2 239.9 212.1 244.0 212.2C248.1 212.3 246.1 212.7 250.0 212.8C253.9 212.9 262.7 212.6 267.5 212.9C272.3 213.2 275.4 213.7 278.8 214.4C282.2 215.1 284.1 216.0 287.6 216.9C291.2 217.8 296.4 219.1 300.1 220.0C303.9 220.9 307.2 221.7 310.1 222.5C313.0 223.3 315.1 224.2 317.6 225.0C320.1 225.8 322.3 225.9 325.2 227.0C328.1 228.1 332.3 230.0 335.2 231.3C338.1 232.7 340.2 233.8 342.7 235.1C345.2 236.3 346.9 237.4 350.2 238.8C353.5 240.2 358.6 242.2 362.7 243.8C366.8 245.4 370.9 247.2 375.0 248.6C379.1 250.0 383.3 251.3 387.5 252.5C391.7 253.7 395.8 255.1 400.0 256.0C404.2 256.9 409.5 257.6 412.6 258.2C415.7 258.8 415.7 259.0 418.8 259.8C421.9 260.6 427.2 261.8 431.4 262.8C435.6 263.8 440.1 264.8 443.9 265.7C447.6 266.6 450.8 267.6 453.9 268.2C457.0 268.8 459.8 268.9 462.7 269.4C465.6 269.9 468.3 270.9 471.4 271.4C474.5 271.9 478.4 272.3 481.5 272.6C484.6 272.9 487.1 273.0 490.2 273.2C493.3 273.4 496.1 273.8 500.0 273.9C503.9 274.0 510.0 274.0 513.8 273.6C517.5 273.2 519.0 272.2 522.5 271.5C526.0 270.8 531.6 270.2 535.1 269.5C538.6 268.8 540.9 268.2 543.8 267.3C546.7 266.4 549.7 265.3 552.6 264.4C555.5 263.5 558.5 262.8 561.4 261.9C564.3 261.0 567.2 259.7 570.1 258.8C573.0 257.9 576.2 257.2 578.9 256.4C581.6 255.6 583.5 254.6 586.4 253.8C589.3 253.0 593.0 252.2 596.4 251.5C599.8 250.8 603.6 250.0 606.5 249.4C609.4 248.8 610.9 248.1 614.0 247.7C617.1 247.3 621.9 247.1 625.0 246.8C628.1 246.5 629.4 246.5 632.5 246.1C635.6 245.7 639.8 245.2 643.8 244.5C647.8 243.8 652.1 242.9 656.3 242.0C660.5 241.1 664.6 240.0 668.8 239.1C673.0 238.2 677.6 237.4 681.4 236.3C685.2 235.2 687.6 234.2 691.4 232.8C695.1 231.4 699.9 229.4 703.9 227.8C707.9 226.2 711.7 224.7 715.2 223.2C718.8 221.7 721.9 220.2 725.2 218.8C728.5 217.4 732.1 216.2 735.2 215.0C738.3 213.8 740.7 213.1 744.0 211.9C747.3 210.7 750.8 209.3 755.0 208.0C759.2 206.7 767.0 204.6 769.4 203.9" fill="none" stroke="#ff0000" stroke-width="2.1" stroke-linejoin="round"/>
<path d="M1.9 407.8V1.8H970.7V407.8" fill="none" stroke="#3a3a3a" stroke-width="1.05"/>
<line x1="1.4" y1="407.3" x2="971.2" y2="407.3" stroke="#3a3a3a" stroke-width="1.05"/>
<line x1="971" y1="12.0" x2="972.7" y2="12.0" stroke="#3a3a3a" stroke-width="0.9"/>
<text transform="translate(974.60,14.70) scale(0.945,1)">0.9845</text>
<line x1="971" y1="39.6" x2="972.7" y2="39.6" stroke="#3a3a3a" stroke-width="0.9"/>
<text transform="translate(974.60,42.27) scale(0.945,1)">0.9830</text>
<line x1="971" y1="67.1" x2="972.7" y2="67.1" stroke="#3a3a3a" stroke-width="0.9"/>
<text transform="translate(974.60,69.84) scale(0.945,1)">0.9815</text>
<line x1="971" y1="94.7" x2="972.7" y2="94.7" stroke="#3a3a3a" stroke-width="0.9"/>
<text transform="translate(974.60,97.41) scale(0.945,1)">0.9800</text>
<line x1="971" y1="122.3" x2="972.7" y2="122.3" stroke="#3a3a3a" stroke-width="0.9"/>
<text transform="translate(974.60,124.98) scale(0.945,1)">0.9785</text>
<line x1="971" y1="149.8" x2="972.7" y2="149.8" stroke="#3a3a3a" stroke-width="0.9"/>
<text transform="translate(974.60,152.55) scale(0.945,1)">0.9770</text>
<line x1="971" y1="177.4" x2="972.7" y2="177.4" stroke="#3a3a3a" stroke-width="0.9"/>
<text transform="translate(974.60,180.12) scale(0.945,1)">0.9755</text>
<line x1="971" y1="205.0" x2="972.7" y2="205.0" stroke="#3a3a3a" stroke-width="0.9"/>
<text transform="translate(974.60,207.69) scale(0.945,1)">0.9740</text>
<line x1="971" y1="232.6" x2="972.7" y2="232.6" stroke="#3a3a3a" stroke-width="0.9"/>
<text transform="translate(974.60,235.26) scale(0.945,1)">0.9725</text>
<line x1="971" y1="260.1" x2="972.7" y2="260.1" stroke="#3a3a3a" stroke-width="0.9"/>
<text transform="translate(974.60,262.83) scale(0.945,1)">0.9710</text>
<line x1="971" y1="287.7" x2="972.7" y2="287.7" stroke="#3a3a3a" stroke-width="0.9"/>
<text transform="translate(974.60,290.40) scale(0.945,1)">0.9695</text>
<line x1="971" y1="315.3" x2="972.7" y2="315.3" stroke="#3a3a3a" stroke-width="0.9"/>
<text transform="translate(974.60,317.97) scale(0.945,1)">0.9680</text>
<line x1="971" y1="342.8" x2="972.7" y2="342.8" stroke="#3a3a3a" stroke-width="0.9"/>
<text transform="translate(974.60,345.54) scale(0.945,1)">0.9665</text>
<line x1="971" y1="370.4" x2="972.7" y2="370.4" stroke="#3a3a3a" stroke-width="0.9"/>
<text transform="translate(974.60,373.11) scale(0.945,1)">0.9650</text>
<line x1="971" y1="398.0" x2="972.7" y2="398.0" stroke="#3a3a3a" stroke-width="0.9"/>
<text transform="translate(974.60,400.68) scale(0.945,1)">0.9635</text>
<rect x="972" y="138.2" width="26.2" height="7.7" fill="#000"/>
<text transform="translate(974.60,144.90) scale(0.945,1)" style="fill:#fff;stroke:#fff">0.9774</text>
<line x1="2.2" y1="407.3" x2="2.2" y2="410" stroke="#3a3a3a" stroke-width="0.95"/>
<text transform="translate(0.85,417.10) scale(0.945,1)">23 Sep 2016</text>
<line x1="49.8" y1="407.3" x2="49.8" y2="410" stroke="#3a3a3a" stroke-width="0.95"/>
<text transform="translate(48.40,417.10) scale(0.945,1)">23 Sep 18:00</text>
<line x1="97.3" y1="407.3" x2="97.3" y2="410" stroke="#3a3a3a" stroke-width="0.95"/>
<text transform="translate(95.95,417.10) scale(0.945,1)">26 Sep 11:00</text>
<line x1="144.8" y1="407.3" x2="144.8" y2="410" stroke="#3a3a3a" stroke-width="0.95"/>
<text transform="translate(143.50,417.10) scale(0.945,1)">27 Sep 03:00</text>
<line x1="192.4" y1="407.3" x2="192.4" y2="410" stroke="#3a3a3a" stroke-width="0.95"/>
<text transform="translate(191.05,417.10) scale(0.945,1)">27 Sep 19:00</text>
<line x1="239.9" y1="407.3" x2="239.9" y2="410" stroke="#3a3a3a" stroke-width="0.95"/>
<text transform="translate(238.60,417.10) scale(0.945,1)">28 Sep 11:00</text>
<line x1="287.5" y1="407.3" x2="287.5" y2="410" stroke="#3a3a3a" stroke-width="0.95"/>
<text transform="translate(286.15,417.10) scale(0.945,1)">29 Sep 03:00</text>
<line x1="335.0" y1="407.3" x2="335.0" y2="410" stroke="#3a3a3a" stroke-width="0.95"/>
<text transform="translate(333.70,417.10) scale(0.945,1)">29 Sep 19:00</text>
<line x1="382.6" y1="407.3" x2="382.6" y2="410" stroke="#3a3a3a" stroke-width="0.95"/>
<text transform="translate(381.25,417.10) scale(0.945,1)">30 Sep 11:00</text>
<line x1="430.1" y1="407.3" x2="430.1" y2="410" stroke="#3a3a3a" stroke-width="0.95"/>
<text transform="translate(428.80,417.10) scale(0.972,1)">3 Oct 04:00</text>
<line x1="477.7" y1="407.3" x2="477.7" y2="410" stroke="#3a3a3a" stroke-width="0.95"/>
<text transform="translate(476.35,417.10) scale(0.972,1)">3 Oct 20:00</text>
<line x1="525.2" y1="407.3" x2="525.2" y2="410" stroke="#3a3a3a" stroke-width="0.95"/>
<text transform="translate(523.90,417.10) scale(0.972,1)">4 Oct 12:00</text>
<line x1="572.8" y1="407.3" x2="572.8" y2="410" stroke="#3a3a3a" stroke-width="0.95"/>
<text transform="translate(571.45,417.10) scale(0.972,1)">5 Oct 04:00</text>
<line x1="620.4" y1="407.3" x2="620.4" y2="410" stroke="#3a3a3a" stroke-width="0.95"/>
<text transform="translate(619.00,417.10) scale(0.972,1)">5 Oct 20:00</text>
<line x1="667.9" y1="407.3" x2="667.9" y2="410" stroke="#3a3a3a" stroke-width="0.95"/>
<text transform="translate(666.55,417.10) scale(0.972,1)">6 Oct 12:00</text>
<line x1="715.5" y1="407.3" x2="715.5" y2="410" stroke="#3a3a3a" stroke-width="0.95"/>
<text transform="translate(714.10,417.10) scale(0.972,1)">7 Oct 04:00</text>
<line x1="763.0" y1="407.3" x2="763.0" y2="410" stroke="#3a3a3a" stroke-width="0.95"/>
<text transform="translate(761.65,417.10) scale(0.972,1)">7 Oct 20:00</text>
<path d="M4.3 6.4h5.4l-2.7 2.9z" fill="#000"/>
<text transform="translate(13.50,10.50) scale(0.975,1)">USDCHF,H1</text>
<text transform="translate(58.60,10.50) scale(0.945,1)">0.9773</text>
<text transform="translate(81.60,10.50) scale(0.945,1)">0.9780</text>
<text transform="translate(104.60,10.50) scale(0.945,1)">0.9771</text>
<text transform="translate(127.60,10.50) scale(0.945,1)">0.9774</text>
</svg></body></html>
